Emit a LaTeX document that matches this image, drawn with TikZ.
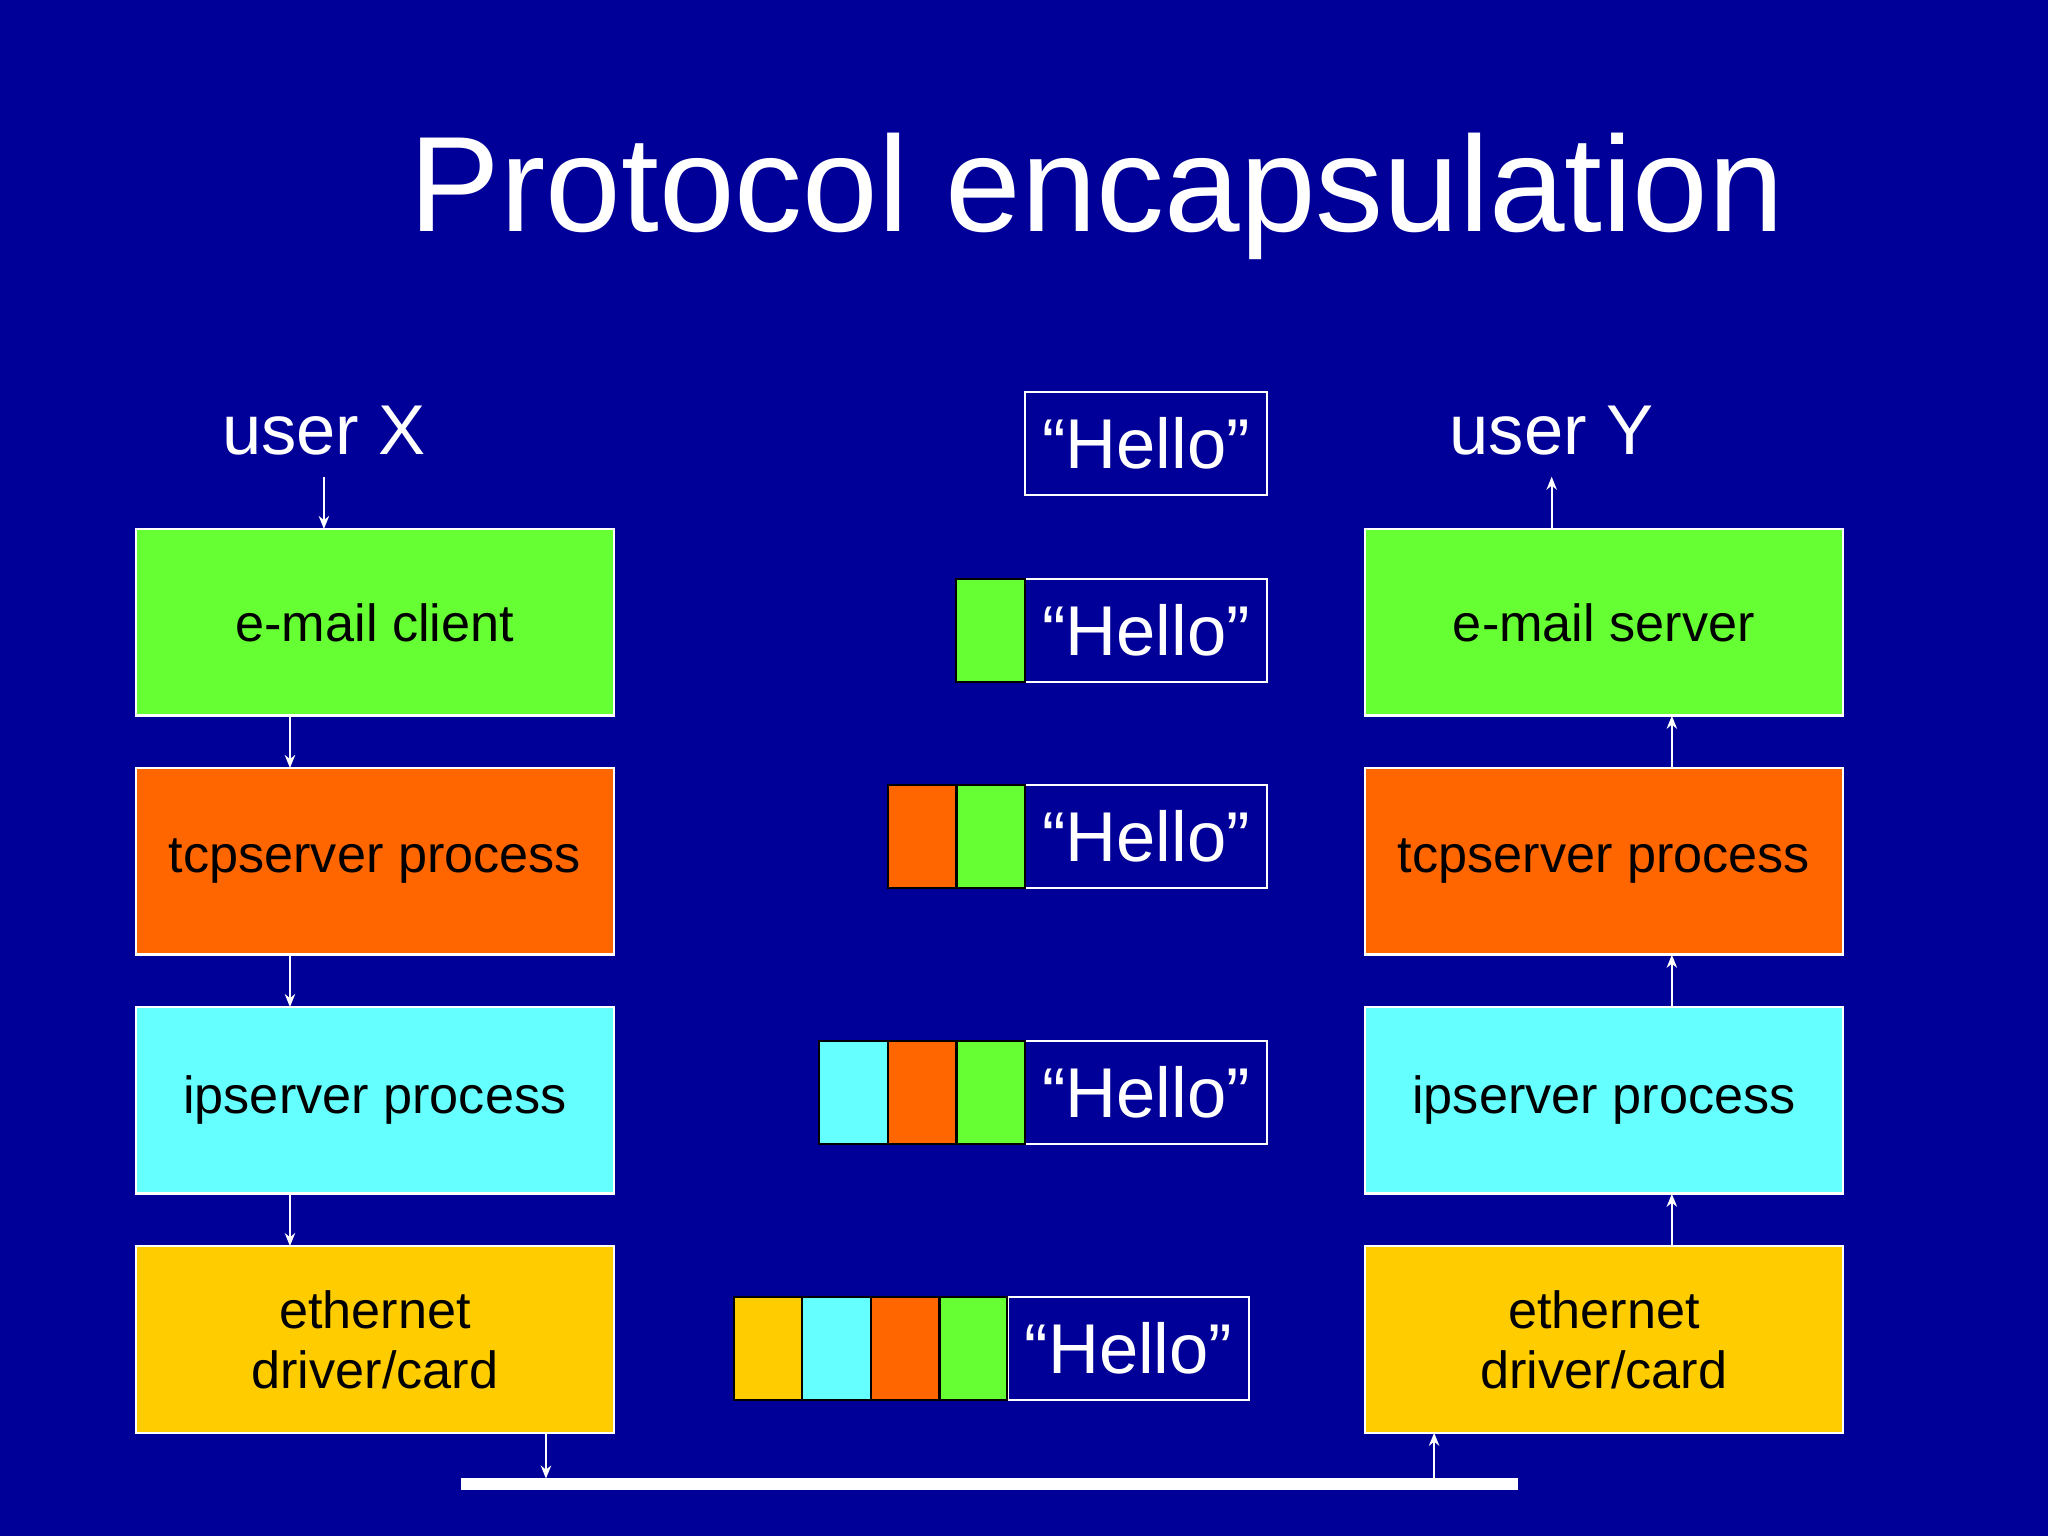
\documentclass[tikz,border=0pt]{standalone}
\usepackage{fontspec}
\setmainfont{Liberation Sans}
\usetikzlibrary{arrows.meta}
\definecolor{bg}{HTML}{000099}
\definecolor{cg}{HTML}{66FF33}
\definecolor{co}{HTML}{FF6600}
\definecolor{cc}{HTML}{66FFFF}
\definecolor{cy}{HTML}{FFCC00}
\tikzset{
 lay/.style={draw=white,line width=1pt,minimum width=183pt,minimum height=71.5pt,inner sep=0pt,font=\fontsize{20}{23}\selectfont,align=center,text=black},
 hel/.style={draw=white,line width=0.8pt,minimum width=92.5pt,minimum height=39.5pt,inner sep=0pt,font=\fontsize{27}{30}\selectfont,text=white},
 hdr/.style={draw=black,line width=0.8pt,minimum width=26.3pt,minimum height=39.5pt,inner sep=0pt},
 arr/.style={white,line width=0.7pt,-{Stealth[length=5pt,width=4pt]}},
 usr/.style={text=white,font=\fontsize{27}{30}\selectfont,inner sep=0pt}
}
\begin{document}
\begin{tikzpicture}[x=0.5pt,y=-0.5pt]
\fill[bg] (0,0) rectangle (1568,1176);
\node[text=white,font=\fontsize{52}{60}\selectfont] (title) at (840,150) {Protocol encapsulation};
\node[usr] (ux) at (248,330) {user X};
\node[usr] (uy) at (1188,330) {user Y};
% left stack
\node[lay,fill=cg] (l1) at (287,476.5) {e-mail client};
\node[lay,fill=co] (l2) at (287,659.5) {tcpserver process};
\node[lay,fill=cc] (l3) at (287,842.5) {ipserver process};
\node[lay,fill=cy] (l4) at (287,1025.5) {ethernet\\driver/card};
% right stack
\node[lay,fill=cg] (r1) at (1228,476.5) {e-mail server};
\node[lay,fill=co] (r2) at (1228,659.5) {tcpserver process};
\node[lay,fill=cc] (r3) at (1228,842.5) {ipserver process};
\node[lay,fill=cy] (r4) at (1228,1025.5) {ethernet\\driver/card};
% bus
\draw[white,line width=4.5pt] (353,1136) -- (1162,1136);
\coordinate (bl) at (418,1132);
\coordinate (br) at (1098,1132);
\coordinate (uxa) at (248,365);
\coordinate (uya) at (1188,365);
\draw[arr] (uxa) -- (248,405);
\draw[arr] (222,548) -- (222,588);
\draw[arr] (222,731) -- (222,771);
\draw[arr] (222,914) -- (222,954);
\draw[arr] (418,1097) -- (bl);
\draw[arr] (br) -- (1098,1097);
\draw[arr] (1280,954) -- (1280,914);
\draw[arr] (1280,771) -- (1280,731);
\draw[arr] (1280,588) -- (1280,548);
\draw[arr] (1188,405) -- (uya);
% hello rows
\node[hel] (h1) at (877.5,339.5) {“Hello”};
\node[hel] (h2) at (877.5,482.5) {“Hello”};
\node[hdr,fill=cg] (h2g) at (758.5,482.5) {};
\node[hel] (h3) at (877.5,640.5) {“Hello”};
\node[hdr,fill=cg] (h3g) at (758.5,640.5) {};
\node[hdr,fill=co] (h3o) at (706,640.5) {};
\node[hel] (h4) at (877.5,836.5) {“Hello”};
\node[hdr,fill=cg] (h4g) at (758.5,836.5) {};
\node[hdr,fill=co] (h4o) at (706,836.5) {};
\node[hdr,fill=cc] (h4c) at (653.5,836.5) {};
\node[hel] (h5) at (864,1032.5) {“Hello”};
\node[hdr,fill=cg] (h5g) at (745,1032.5) {};
\node[hdr,fill=co] (h5o) at (693,1032.5) {};
\node[hdr,fill=cc] (h5c) at (640.5,1032.5) {};
\node[hdr,fill=cy] (h5y) at (588,1032.5) {};
\end{tikzpicture}
\end{document}
